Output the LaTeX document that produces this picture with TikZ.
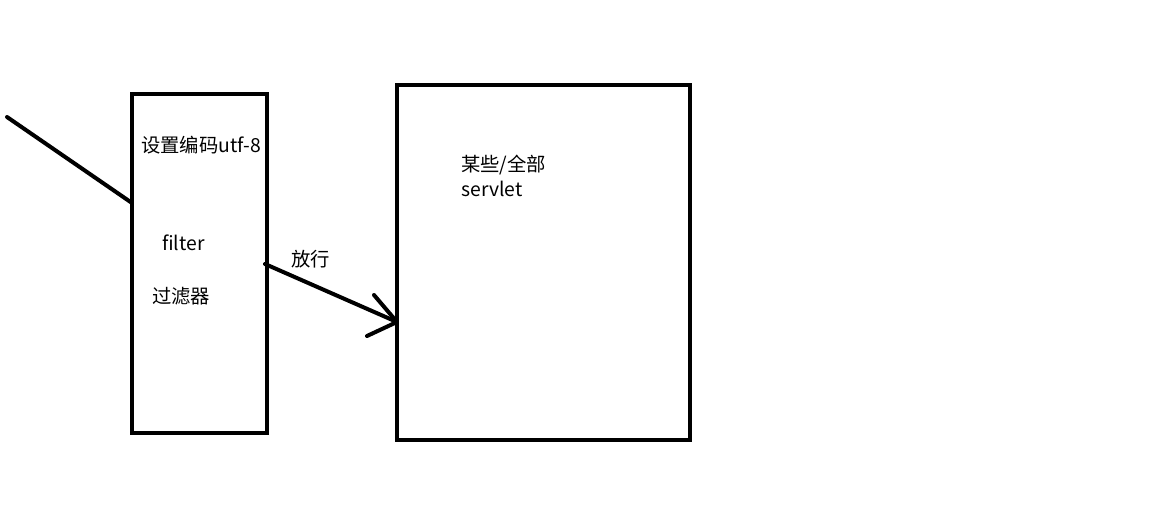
\documentclass[tikz,border=0pt]{standalone}
\usepackage{fontspec}
\setmainfont{Noto Sans CJK SC}
\begin{document}
\begin{tikzpicture}[x=0.75pt,y=-0.75pt,
  box/.style={draw=black,line width=3pt,fill=none,outer sep=0pt,inner sep=0pt,anchor=north west},
  lbl/.style={font=\fontsize{14.5pt}{17pt}\selectfont,inner sep=0pt,anchor=west},
  stroke/.style={line width=3pt,line cap=round,line join=round}]
\useasboundingbox[fill=white] (0,0) rectangle (1168,531);
\node[box,minimum width=135*0.75pt,minimum height=339*0.75pt] (filter) at (132,94) {};
\node[box,minimum width=293*0.75pt,minimum height=355*0.75pt] (servlet) at (397,85) {};
\node[lbl] (t1) at (141,145) {设置编码utf-8};
\node[lbl] (t2) at (162,243) {filter};
\node[lbl] (t3) at (152,296) {过滤器};
\node[lbl] (t4) at (291,259) {放行};
\node[lbl] (t5) at (461,165) {某些/全部};
\node[lbl] (t6) at (461,189) {servlet};
\coordinate (in) at (7,117);
\coordinate (inend) at (132,203);
\coordinate (from) at (265,264);
\coordinate (to) at (397,322);
\coordinate (h1) at (374,295);
\coordinate (h2) at (367,336);
\draw[stroke] (in) -- (inend);
\draw[stroke] (from) -- (to);
\draw[stroke] (h1) -- (to) -- (h2);
\end{tikzpicture}
\end{document}
